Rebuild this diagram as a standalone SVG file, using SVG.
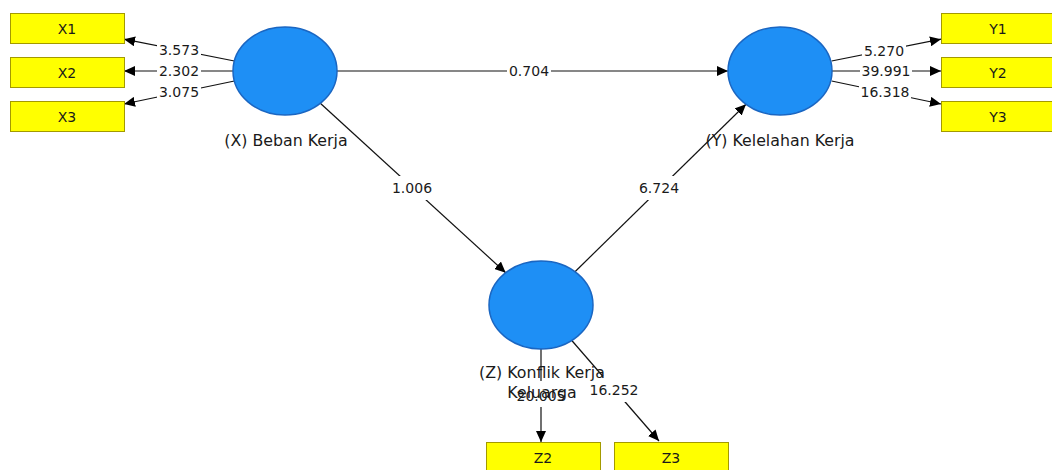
<svg xmlns="http://www.w3.org/2000/svg" width="1052" height="470" viewBox="0 0 1052 470">
<style>
.lv{fill:#1e8ff5;stroke:#1a66c2;stroke-width:1.5}
.mv{fill:#ffff00;stroke:#a39a00;stroke-width:1}
.t{font-family:"DejaVu Sans",Verdana,sans-serif;font-size:14px;fill:#1a1a1a;text-anchor:middle}
.nl{font-size:15.8px}
.ln{stroke:#111;stroke-width:1.2;fill:none;marker-end:url(#ah)}
.bg{fill:#fff}
</style>
<defs>
<marker id="ah" markerUnits="userSpaceOnUse" markerWidth="11" markerHeight="10" refX="11" refY="5" orient="auto">
<path d="M0,0 L11,5 L0,10 z" fill="#000"/>
</marker>
</defs>
<rect width="1052" height="470" fill="#fff"/>
<g id="connectors">
<line class="ln" x1="234.4" y1="61" x2="124" y2="39.2"/>
<line class="ln" x1="233" y1="71" x2="124" y2="71"/>
<line class="ln" x1="234.4" y1="81" x2="124" y2="104"/>
<line class="ln" x1="831.6" y1="61" x2="941" y2="39.2"/>
<line class="ln" x1="832" y1="71" x2="941" y2="71"/>
<line class="ln" x1="831.6" y1="81" x2="941" y2="104"/>
<line class="ln" x1="337" y1="71" x2="728" y2="71"/>
<line class="ln" x1="320.3" y1="103.3" x2="505.7" y2="272.7"/>
<line class="ln" x1="575" y1="271.7" x2="746" y2="104.3"/>
<line class="ln" x1="541" y1="349" x2="541" y2="442"/>
<line class="ln" x1="571.8" y1="340.5" x2="659" y2="441"/>
<g id="edge-labels">
<rect class="bg" x="157" y="43" width="44" height="14"/><text class="t" x="179" y="55">3.573</text>
<rect class="bg" x="157" y="64" width="44" height="14"/><text class="t" x="179" y="76">2.302</text>
<rect class="bg" x="157" y="85" width="44" height="14"/><text class="t" x="179" y="97">3.075</text>
<rect class="bg" x="862" y="44" width="44" height="14"/><text class="t" x="884" y="56">5.270</text>
<rect class="bg" x="860" y="64" width="52" height="14"/><text class="t" x="886" y="76">39.991</text>
<rect class="bg" x="859" y="85" width="52" height="14"/><text class="t" x="885" y="97">16.318</text>
<rect class="bg" x="507" y="64" width="44" height="14"/><text class="t" x="529" y="76">0.704</text>
<rect class="bg" x="390" y="176" width="44" height="24"/><text class="t" x="412" y="193">1.006</text>
<rect class="bg" x="637" y="176" width="44" height="24"/><text class="t" x="659" y="193">6.724</text>
<rect class="bg" x="515" y="381" width="52" height="26"/><text class="t" x="541" y="401">20.005</text>
<rect class="bg" x="588" y="376" width="52" height="26"/><text class="t" x="614" y="395">16.252</text>
</g>
</g>
<g id="X">
<ellipse class="lv" cx="285" cy="71" rx="52" ry="44"/>
<text class="t nl" x="286" y="146">(X) Beban Kerja</text>
</g>
<g id="Y">
<ellipse class="lv" cx="780" cy="71" rx="52" ry="44"/>
<text class="t nl" x="780" y="146">(Y) Kelelahan Kerja</text>
</g>
<g id="Z">
<ellipse class="lv" cx="541" cy="305" rx="52" ry="44"/>
<text class="t nl" x="542" y="378">(Z) Konflik Kerja</text>
<text class="t nl" x="542" y="398">Keluarga</text>
</g>
<g id="X1"><rect class="mv" x="10.5" y="13.5" width="114" height="30"/><text class="t" x="67" y="34">X1</text></g>
<g id="X2"><rect class="mv" x="10.5" y="57.5" width="114" height="30"/><text class="t" x="67" y="78">X2</text></g>
<g id="X3"><rect class="mv" x="10.5" y="101.5" width="114" height="30"/><text class="t" x="67" y="122">X3</text></g>
<g id="Y1"><rect class="mv" x="941.5" y="13.5" width="114" height="30"/><text class="t" x="998" y="34">Y1</text></g>
<g id="Y2"><rect class="mv" x="941.5" y="57.5" width="114" height="30"/><text class="t" x="998" y="78">Y2</text></g>
<g id="Y3"><rect class="mv" x="941.5" y="101.5" width="114" height="30"/><text class="t" x="998" y="122">Y3</text></g>
<g id="Z2"><rect class="mv" x="486.5" y="442.5" width="114" height="30"/><text class="t" x="543" y="463">Z2</text></g>
<g id="Z3"><rect class="mv" x="614.5" y="442.5" width="114" height="30"/><text class="t" x="671" y="463">Z3</text></g>
</svg>
